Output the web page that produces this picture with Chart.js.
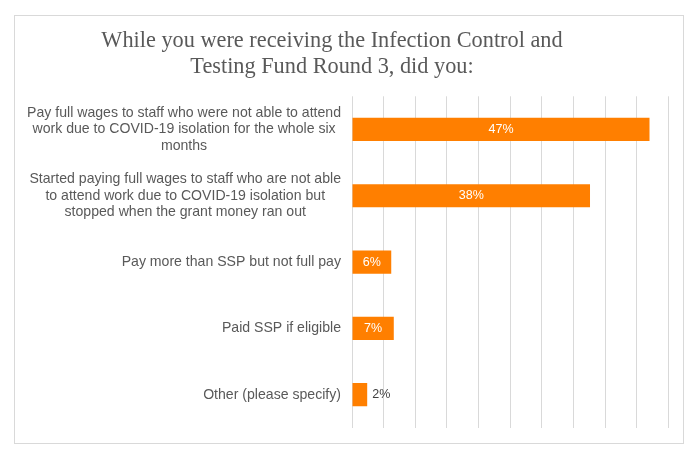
<!DOCTYPE html>
<html>
<head>
<meta charset="utf-8">
<script src="https://cdn.jsdelivr.net/npm/chart.js@4/dist/chart.umd.min.js"></script>
<style>
  html, body { margin: 0; padding: 0; background: #fff; }
  #wrap { width: 700px; height: 461px; position: relative; }
</style>
</head>
<body>
<div id="wrap"><canvas id="chart" width="700" height="461"></canvas></div>
<script>
// ---------------- Data ----------------
const titleLines = [
  "While you were receiving the Infection Control and",
  "Testing Fund Round 3, did you:"
];
const categories = [
  ["Pay full wages to staff who were not able to attend", "work due to COVID-19 isolation for the whole six", "months"],
  ["Started paying full wages to staff who are not able", "to attend work due to COVID-19 isolation but", "stopped when the grant money ran out"],
  ["Pay more than SSP but not full pay"],
  ["Paid SSP if eligible"],
  ["Other (please specify)"]
];
const values = [47, 37.6, 6.2, 6.6, 2.4];
const valueLabels = ["47%", "38%", "6%", "7%", "2%"];
const axisMax = 50;
const axisStep = 5;

const ORANGE = "#FF7F00";
const TEXT = "#595959";
const SANS = "'Liberation Sans', Arial, sans-serif";
const SERIF = "'Liberation Serif', 'Times New Roman', serif";

// frame, title, category labels and value labels
const decor = {
  id: "decor",
  beforeDraw(chart) {
    const ctx = chart.ctx;
    ctx.save();
    ctx.fillStyle = "#fff";
    ctx.fillRect(0, 0, chart.width, chart.height);
    ctx.strokeStyle = "#d9d9d9";
    ctx.lineWidth = 1;
    ctx.strokeRect(14.5, 15.5, 669, 428);
    ctx.restore();
  },
  afterDraw(chart) {
    const ctx = chart.ctx;
    const yScale = chart.scales.y;
    ctx.save();

    // Title
    ctx.fillStyle = TEXT;
    ctx.font = "22.3px " + SERIF;
    ctx.textAlign = "center";
    ctx.textBaseline = "alphabetic";
    titleLines.forEach((t, i) => ctx.fillText(t, 332, 47 + i * 26));

    // Category labels: block right-aligned, lines centred inside block
    ctx.font = "14.1px " + SANS;
    ctx.textBaseline = "middle";
    const right = 341;
    const lh = 16.7;
    categories.forEach((lines, i) => {
      const cy = yScale.getPixelForValue(i);
      const w = Math.max(...lines.map(l => ctx.measureText(l).width));
      const cx = right - w / 2;
      const y0 = cy - (lines.length - 1) * lh / 2;
      ctx.textAlign = "center";
      lines.forEach((l, j) => ctx.fillText(l, cx, y0 + j * lh));
    });

    // Value labels
    ctx.font = "12.5px " + SANS;
    const meta = chart.getDatasetMeta(0);
    meta.data.forEach((bar, i) => {
      const txt = valueLabels[i];
      const tw = ctx.measureText(txt).width;
      const barW = bar.x - bar.base;
      if (barW > tw + 8) {
        ctx.fillStyle = "#fff";
        ctx.textAlign = "center";
        ctx.fillText(txt, (bar.x + bar.base) / 2, bar.y);
      } else {
        ctx.fillStyle = "#404040";
        ctx.textAlign = "left";
        ctx.fillText(txt, bar.x + 5, bar.y);
      }
    });
    ctx.restore();
  }
};

new Chart(document.getElementById("chart"), {
  type: "bar",
  data: {
    labels: categories.map(c => c.join(" ")),
    datasets: [{
      data: values,
      backgroundColor: ORANGE,
      categoryPercentage: 1,
      barPercentage: 0.35
    }]
  },
  options: {
    indexAxis: "y",
    responsive: false,
    animation: false,
    layout: { padding: { left: 352, right: 31.5, top: 96.3, bottom: 33.2 } },
    plugins: { legend: { display: false }, title: { display: false }, tooltip: { enabled: false } },
    scales: {
      x: {
        min: 0, max: axisMax,
        ticks: { display: false, stepSize: axisStep },
        grid: { color: "#d9d9d9", lineWidth: 1, drawTicks: false },
        border: { display: false },
        afterFit(s) { s.height = 0; }
      },
      y: {
        display: false
      }
    }
  },
  plugins: [decor]
});
</script>
</body>
</html>
